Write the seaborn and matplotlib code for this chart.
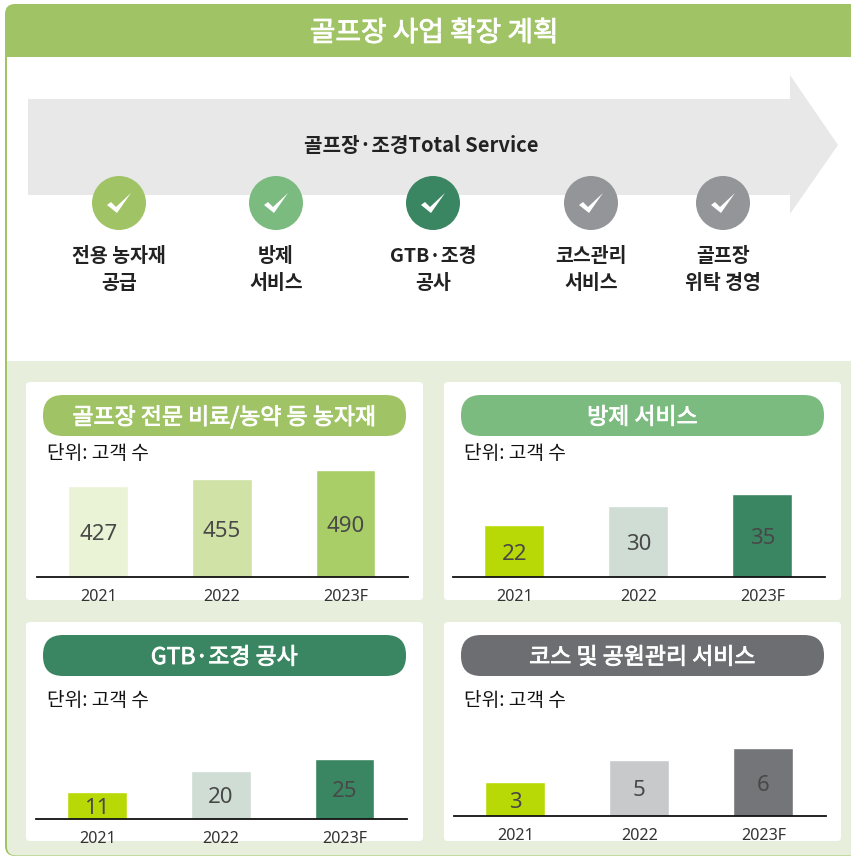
import matplotlib
matplotlib.use("Agg")
import matplotlib.pyplot as plt
import matplotlib.patheffects as pe
from matplotlib.patches import Rectangle, Circle, Polygon, FancyBboxPatch
import pandas as pd
import seaborn as sns

W, H = 851, 856
KR = ['Noto Sans CJK KR', 'DejaVu Sans']
NUM = ['Noto Sans', 'DejaVu Sans']

# data
years = ["2021", "2022", "2023F"]
farm_supply = [427, 455, 490]
pest_service = [22, 30, 35]
gtb_works = [11, 20, 25]
course_service = [3, 5, 6]

panel_titles = ["골프장 전문 비료/농약 등 농자재", "방제 서비스", "GTB·조경 공사", "코스 및 공원관리 서비스"]
steps = ["전용 농자재\n공급", "방제\n서비스", "GTB·조경\n공사", "코스관리\n서비스", "골프장\n위탁 경영"]
step_x = [119, 276, 433, 591, 723]
step_colors = ["#A0C465", "#7BBB7F", "#3A8662", "#939598", "#939598"]

GREEN = "#A0C465"
LIGHT = "#E7EFDC"

sns.set_theme(style="white")
plt.rcParams['font.family'] = KR

fig = plt.figure(figsize=(W / 100, H / 100), dpi=100, facecolor="white")
bg = fig.add_axes([0, 0, 1, 1])
bg.set_xlim(0, W)
bg.set_ylim(H, 0)
bg.axis("off")

# fake a medium weight on white text
white_stroke = [pe.withStroke(linewidth=0.6, foreground="white")]

# frame
bg.add_patch(FancyBboxPatch((5, 4), W + 30, H - 4, boxstyle="round,pad=0,rounding_size=10",
                            fc=GREEN, ec="none"))
bg.add_patch(Rectangle((7, 57), W, 304, fc="white", ec="none"))
bg.add_patch(Rectangle((7, 361), W, 440, fc=LIGHT, ec="none"))
bg.add_patch(FancyBboxPatch((7, 700), W + 30, 155.5, boxstyle="round,pad=0,rounding_size=9",
                            fc=LIGHT, ec="none"))
bg.text(434, 33, "골프장 사업 확장 계획", color="white", fontsize=20, ha="center", va="center",
        path_effects=white_stroke)

# arrow
bg.add_patch(Polygon([(28, 99), (790, 99), (790, 75), (838, 145), (790, 214), (790, 195), (28, 195)],
                     fc="#E8E8E9", ec="none"))
bg.text(421, 145, "골프장·조경Total Service", color="#222222", fontsize=14.5, ha="center", va="center",
        fontweight="bold")

for x, c, label in zip(step_x, step_colors, steps):
    bg.add_patch(Circle((x, 203), 27, fc=c, ec="none"))
    bg.add_patch(Polygon([(x - 12, 205), (x - 8, 202), (x - 3, 207), (x + 12, 193), (x - 2, 213)],
                         fc="white", ec="none"))
    bg.text(x, 270, label, color="#222222", fontsize=14, ha="center", va="center",
            linespacing=1.5, fontweight="bold")

# panels: white card, pill, unit text, bar axes
panels = [
    dict(card=(26, 382, 397, 218), pill=(43, 395), unit=(47, 453), axis=(37, 408, 577),
         values=farm_supply, low=49, scale=0.242, colors=["#EBF3D6", "#D0E2A5", "#A9CE68"]),
    dict(card=(444, 382, 397, 218), pill=(461, 395), unit=(464, 453), axis=(453, 825, 577),
         values=pest_service, low=0.5, scale=2.42, colors=["#B9D907", "#CFDDD5", "#3A8662"]),
    dict(card=(26, 622, 397, 219), pill=(43, 635), unit=(47, 700), axis=(36, 407, 819),
         values=gtb_works, low=0, scale=2.42, colors=["#B9D907", "#CFDDD5", "#3A8662"]),
    dict(card=(444, 622, 397, 219), pill=(461, 635), unit=(464, 700), axis=(454, 826, 816),
         values=course_service, low=0, scale=11.3, colors=["#B9D907", "#C8C9CB", "#747578"]),
]
pill_colors = ["#A0C465", "#7BBB7F", "#3A8662", "#6D6E72"]

for p, title, pc in zip(panels, panel_titles, pill_colors):
    x0, y0, w, h = p["card"]
    bg.add_patch(FancyBboxPatch((x0, y0), w, h, boxstyle="round,pad=0,rounding_size=4",
                                fc="white", ec="none"))
    px, py = p["pill"]
    bg.add_patch(FancyBboxPatch((px, py), 363, 41, boxstyle="round,pad=0,rounding_size=20",
                                fc=pc, ec="none"))
    bg.text(px + 181.5, py + 22.5, title, color="white", fontsize=16.5, ha="center", va="center",
            path_effects=white_stroke)
    bg.text(p["unit"][0], p["unit"][1], "단위: 고객 수", color="#111111", fontsize=13.8,
            ha="left", va="center")

    left, right, base = p["axis"]
    height_px = 110
    ax = fig.add_axes([left / W, 1 - base / H, (right - left) / W, height_px / H])
    ax.patch.set_alpha(0)
    df = pd.DataFrame({"year": years, "value": p["values"]})
    sns.barplot(data=df, x="year", y="value", hue="year", palette=p["colors"], legend=False,
                width=0.483, saturation=1, ax=ax)
    ax.set_xlim(-0.495, 2.505)
    ax.set_ylim(p["low"], p["low"] + height_px / p["scale"])
    ax.set_xlabel("")
    ax.set_ylabel("")
    ax.set_yticks([])
    sns.despine(ax=ax, left=True)
    ax.spines["bottom"].set_color("#111111")
    ax.spines["bottom"].set_linewidth(1.3)
    ax.tick_params(axis="x", length=0, pad=8.5)
    for t in ax.get_xticklabels():
        t.set_fontsize(11.6)
        t.set_family(NUM)
        t.set_color("#333333")
    for i, v in enumerate(p["values"]):
        ax.annotate(str(v), (i, (v + p["low"]) / 2), xytext=(0, -2.3), textcoords="offset points",
                    ha="center", va="center", fontsize=16, family=NUM, color="#484848")

fig.savefig("out.png", dpi=100)
